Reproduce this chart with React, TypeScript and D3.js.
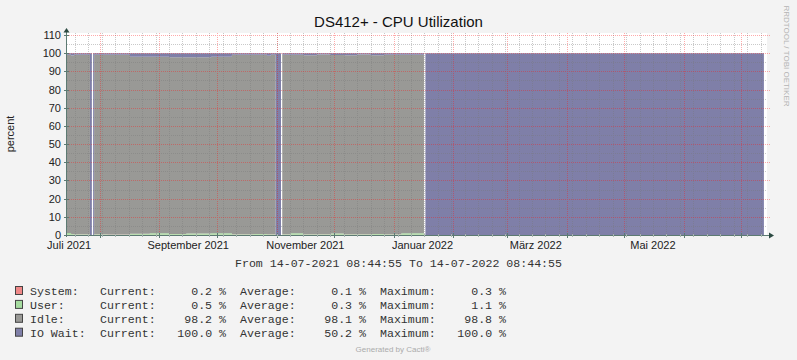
import { useEffect, useRef } from 'react';
import * as d3 from 'd3';

const WIDTH = 797;
const HEIGHT = 360;

// samples: each value holds until the next timestamp; null = unknown
const sampleTimes = [
	'2021-07-14 08:45', '2021-07-17 00:00', '2021-07-18 12:00', '2021-07-26 20:00',
	'2021-07-27 20:00', '2021-07-28 12:00', '2021-07-29 00:00', '2021-08-05 00:00',
	'2021-08-16 16:00', '2021-08-27 00:00', '2021-09-06 00:00', '2021-09-15 00:00',
	'2021-09-28 00:00', '2021-10-08 18:00', '2021-10-20 00:00', '2021-10-27 00:00',
	'2021-10-29 00:00', '2021-10-31 13:00', '2021-11-03 07:30', '2021-11-03 23:00',
	'2021-11-08 00:00', '2021-11-15 00:00', '2021-11-22 00:00', '2021-11-29 00:00',
	'2021-12-06 00:00', '2021-12-13 00:00', '2021-12-20 00:00', '2021-12-27 00:00',
	'2022-01-05 00:00', '2022-01-16 18:00', '2022-01-17 12:00', '2022-07-12 18:00',
];
const systemPct = [0.1, 0.1, 0.1, 0, null, 0, 0.1, 0.1, 0.1, 0.1, 0.1, 0.1, 0.1, 0.1, 0.1, 0.1, 0.1, 0, null, 0.1, 0.1, 0.1, 0.1, 0.1, 0.1, 0.1, 0.1, 0.1, 0.1, null, 0, null];
const userPct = [1.0, 0.4, 0.3, 0, null, 0, 0.3, 0.2, 0.6, 0.9, 0.4, 0.7, 0.8, 0.3, 0.4, 0.3, 0.3, 0, null, 0.3, 0.8, 0.3, 0.3, 0.7, 0.3, 0.3, 0.4, 0.3, 0.8, null, 0, null];
const idlePct = [98.0, 98.2, 98.8, 0, null, 0, 98.8, 98.9, 97.3, 97.0, 97.3, 97.0, 97.2, 98.8, 98.6, 98.2, 98.8, 0, null, 98.8, 98.2, 98.4, 98.9, 98.2, 98.5, 98.9, 98.3, 98.8, 98.3, null, 0, null];
const ioWaitPct = [0.9, 1.3, 0.8, 100, null, 100, 0.8, 0.8, 2.0, 2.0, 2.2, 2.2, 1.9, 0.8, 0.9, 1.4, 0.8, 100, null, 0.8, 0.9, 1.2, 0.7, 1.0, 1.1, 0.7, 1.2, 0.8, 0.8, null, 100, null];

const seriesKeys = ['system', 'user', 'idle', 'ioWait'];
const seriesNames = ['System:', 'User:', 'Idle:', 'IO Wait:'];
const seriesColors = ['#F08888', '#A6DCA0', '#999996', '#7F7FA8'];
const currentVals = ['0.2', '0.5', '98.2', '100.0'];
const averageVals = ['0.1', '0.3', '98.1', '50.2'];
const maximumVals = ['0.3', '1.1', '98.8', '100.0'];

const monthLabels = ['Juli 2021', 'September 2021', 'November 2021', 'Januar 2022', 'März 2022', 'Mai 2022'];
const yTickValues = [0, 10, 20, 30, 40, 50, 60, 70, 80, 90, 100, 110];
const yMinorValues = [5, 15, 25, 35, 45, 55, 65, 75, 85, 95, 105];

const START = new Date(2021, 6, 14, 8, 44, 55);
const END = new Date(2022, 6, 14, 8, 44, 55);

const SANS = "'Liberation Sans', Arial, sans-serif";
const MONO = "'Liberation Mono', 'Courier New', monospace";

// one-pixel dotted line as a filled path (1 on, 1 off), like rrdtool's grid
const dotsV = (px: number, y0: number, y1: number) =>
	d3.range(y0, y1, 2).map((yy) => `M${px},${yy}h1v1h-1Z`).join('');
const dotsH = (py: number, x0: number, x1: number) =>
	d3.range(x0, x1, 2).map((xx) => `M${xx},${py}h1v1h-1Z`).join('');

const App = () => {
	const ref = useRef<SVGSVGElement>(null);

	useEffect(() => {
		if (!ref.current) return;
		const svg = d3.select(ref.current);
		svg.selectAll('*').remove();

		const left = 66;
		const right = 767;
		const bottom = 235;
		const top = 35;
		const canvasTop = 33;

		const x = d3.scaleTime().domain([START, END]).range([left, right]);
		const y = d3.scaleLinear().domain([0, 110]).range([bottom, top]);

		svg.append('rect').attr('width', WIDTH).attr('height', HEIGHT).attr('fill', '#F3F3F3');
		svg.append('rect')
			.attr('x', left).attr('y', canvasTop)
			.attr('width', right - left).attr('height', bottom - canvasTop)
			.attr('fill', '#FFFFFF');

		// expand step samples into flat segments
		const parse = d3.timeParse('%Y-%m-%d %H:%M');
		type Row = { t: Date; system: number; user: number; idle: number; ioWait: number };
		const rows: Row[] = [];
		for (let i = 0; i < sampleTimes.length - 1; i++) {
			const t0 = parse(sampleTimes[i]) as Date;
			const t1 = parse(sampleTimes[i + 1]) as Date;
			if (ioWaitPct[i] === null) {
				rows.push({ t: t0, system: NaN, user: NaN, idle: NaN, ioWait: NaN });
				continue;
			}
			const v = {
				system: systemPct[i] as number,
				user: userPct[i] as number,
				idle: idlePct[i] as number,
				ioWait: ioWaitPct[i] as number,
			};
			rows.push({ t: t0, ...v });
			rows.push({ t: t1, ...v });
		}

		const stacked = d3.stack<Row>().keys(seriesKeys)(rows);
		const area = d3.area<d3.SeriesPoint<Row>>()
			.defined((d) => !isNaN(d[1]) && !isNaN(d[0]))
			.x((d) => x(d.data.t))
			.y0((d) => y(d[0]))
			.y1((d) => y(d[1]));

		stacked.forEach((s, i) => {
			svg.append('path')
				.datum(s)
				.attr('fill', seriesColors[i])
				.attr('d', area);
		});

		// grid, drawn over the data as rrdtool does
		const minorColor = 'rgba(120,120,120,0.4)';
		const majorColor = 'rgba(255,20,20,0.36)';
		const mondays = d3.timeMonday.range(START, END);
		const months = d3.timeMonth.range(d3.timeMonth.ceil(START), END);

		const minorPath =
			mondays.map((d) => dotsV(Math.round(x(d)), canvasTop, bottom)).join('') +
			yMinorValues.map((v) => dotsH(Math.round(y(v)), left + 1, right)).join('');
		svg.append('path')
			.attr('d', minorPath)
			.attr('fill', minorColor)
			.attr('shape-rendering', 'crispEdges');

		const majorPath =
			months.map((d) => dotsV(Math.round(x(d)), canvasTop, bottom)).join('') +
			yTickValues.filter((v) => v > 0).map((v) => dotsH(Math.round(y(v)), left + 1, right + 4)).join('');
		svg.append('path')
			.attr('d', majorPath)
			.attr('fill', majorColor)
			.attr('shape-rendering', 'crispEdges');

		// axes
		const axisColor = '#5C7A72';
		const ax = svg.append('g').attr('shape-rendering', 'crispEdges');
		ax.append('line')
			.attr('x1', left - 2).attr('x2', right + 5)
			.attr('y1', bottom + 0.5).attr('y2', bottom + 0.5)
			.attr('stroke', axisColor);
		ax.append('line')
			.attr('x1', left + 0.5).attr('x2', left + 0.5)
			.attr('y1', bottom + 2).attr('y2', top - 4)
			.attr('stroke', axisColor);
		yTickValues.forEach((v) => {
			const py = Math.round(y(v)) + 0.5;
			ax.append('line')
				.attr('x1', left - 2).attr('x2', left + 3)
				.attr('y1', py).attr('y2', py)
				.attr('stroke', axisColor);
		});
		months.forEach((d) => {
			const px = Math.round(x(d)) + 0.5;
			ax.append('line')
				.attr('x1', px).attr('x2', px)
				.attr('y1', bottom - 2).attr('y2', bottom + 3)
				.attr('stroke', axisColor);
		});
		mondays.forEach((d) => {
			const px = Math.round(x(d)) + 0.5;
			ax.append('line')
				.attr('x1', px).attr('x2', px)
				.attr('y1', bottom - 1).attr('y2', bottom + 2)
				.attr('stroke', '#A8B4B0');
		});

		const arrowColor = '#2C4A42';
		svg.append('path')
			.attr('d', `M${left - 2.5},${top - 2.5} L${left + 3.5},${top - 2.5} L${left + 0.5},${top - 7} Z`)
			.attr('fill', arrowColor);
		svg.append('path')
			.attr('d', `M${right + 2},${bottom - 2.5} L${right + 2},${bottom + 3.5} L${right + 7},${bottom + 0.5} Z`)
			.attr('fill', arrowColor);

		// y labels
		yTickValues.forEach((v) => {
			svg.append('text')
				.attr('x', left - 5).attr('y', y(v))
				.attr('dy', '0.36em')
				.attr('text-anchor', 'end')
				.style('font-family', SANS)
				.style('font-size', '11px')
				.style('fill', '#222')
				.text(v);
		});

		// x labels, centred half a month after month start
		const labelMonths = d3.timeMonth.every(2)!.range(d3.timeMonth.floor(START), END);
		monthLabels.forEach((lab, i) => {
			const d = d3.timeDay.offset(labelMonths[i], 15);
			svg.append('text')
				.attr('x', x(d)).attr('y', bottom + 10)
				.attr('dy', '0.36em')
				.attr('text-anchor', 'middle')
				.style('font-family', SANS)
				.style('font-size', '11px')
				.style('fill', '#222')
				.text(lab);
		});

		svg.append('text')
			.attr('x', WIDTH / 2).attr('y', 22)
			.attr('dy', '0.36em')
			.attr('text-anchor', 'middle')
			.style('font-family', SANS)
			.style('font-size', '15px')
			.style('fill', '#111')
			.text('DS412+ - CPU Utilization');

		svg.append('text')
			.attr('transform', 'translate(10,134) rotate(-90)')
			.attr('dy', '0.36em')
			.attr('text-anchor', 'middle')
			.style('font-family', SANS)
			.style('font-size', '11px')
			.style('fill', '#222')
			.text('percent');

		svg.append('text')
			.attr('transform', 'translate(787,56) rotate(90)')
			.attr('dy', '0.36em')
			.attr('text-anchor', 'middle')
			.style('font-family', SANS)
			.style('font-size', '8px')
			.style('fill', '#B4B4B4')
			.text('RRDTOOL / TOBI OETIKER');

		svg.append('text')
			.attr('x', WIDTH / 2).attr('y', 263)
			.attr('dy', '0.36em')
			.attr('text-anchor', 'middle')
			.style('font-family', MONO)
			.style('font-size', '11.6px')
			.style('fill', '#333')
			.text('From 14-07-2021 08:44:55 To 14-07-2022 08:44:55');

		// legend
		seriesNames.forEach((name, i) => {
			const cy = 291 + i * 13.9;
			const g = svg.append('g')
				.style('font-family', MONO)
				.style('font-size', '11.6px')
				.style('fill', '#333');
			g.append('rect')
				.attr('x', 15.5).attr('y', cy - 4.5)
				.attr('width', 7).attr('height', 8)
				.attr('fill', seriesColors[i])
				.attr('stroke', '#444');
			const cols: [number, string, string][] = [
				[30, 'start', name],
				[100, 'start', 'Current:'],
				[226, 'end', `${currentVals[i]} %`],
				[240, 'start', 'Average:'],
				[366, 'end', `${averageVals[i]} %`],
				[380, 'start', 'Maximum:'],
				[506, 'end', `${maximumVals[i]} %`],
			];
			cols.forEach(([cx, anchor, t]) => {
				g.append('text')
					.attr('x', cx).attr('y', cy)
					.attr('dy', '0.36em')
					.attr('text-anchor', anchor)
					.text(t);
			});
		});

		svg.append('text')
			.attr('x', 393).attr('y', 349)
			.attr('dy', '0.36em')
			.attr('text-anchor', 'middle')
			.style('font-family', SANS)
			.style('font-size', '8px')
			.style('fill', '#ABABAB')
			.text('Generated by Cacti®');
	}, []);

	return (
		<svg
			ref={ref}
			width={WIDTH}
			height={HEIGHT}
			style={{ position: 'absolute', left: 0, top: 0, display: 'block' }}
		></svg>
	);
};

export default App;
